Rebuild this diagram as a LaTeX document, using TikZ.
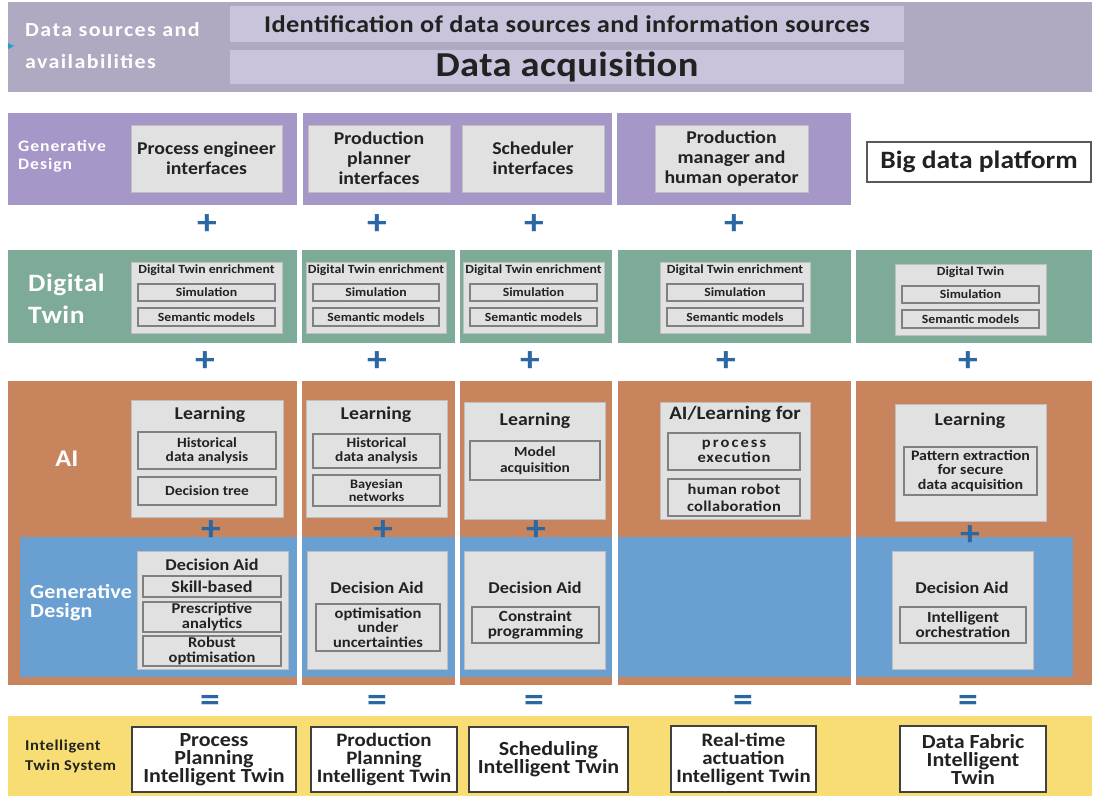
\documentclass[tikz,border=0pt]{standalone}
\usepackage{fontspec}
\setmainfont{Carlito}[FakeStretch=1.1]
\definecolor{topband}{HTML}{AFA9C1}
\definecolor{topin}{HTML}{C9C4DB}
\definecolor{purp}{HTML}{A597C8}
\definecolor{grn}{HTML}{7EAB97}
\definecolor{org}{HTML}{C8855D}
\definecolor{blu}{HTML}{6AA0D1}
\definecolor{yel}{HTML}{F7DD73}
\definecolor{boxg}{HTML}{E1E1E1}
\definecolor{signb}{HTML}{2B67A3}
\definecolor{txt}{HTML}{222222}
\newcommand{\fs}[2]{\fontsize{#1}{#2}\selectfont\bfseries}
\newcommand{\lsp}[1]{\addfontfeature{LetterSpace=#1}}
\newcommand{\bx}[7]{\node[#6, minimum width={(#4)-(#2)}, minimum height={(#5)-(#3)}] (#1) at ({((#2)+(#4))/2},{((#3)+(#5))/2}) {#7};}
\tikzset{
  base/.style={inner sep=0pt, outer sep=0pt, align=center, text=txt},
  topinbox/.style={base, fill=topin},
  gbox/.style={base, fill=boxg, draw=boxg!85!black, line width=0.4pt},
  sbox/.style={base, fill=boxg, draw=black!50, line width=1.1pt},
  twin/.style={base, fill=white, draw=black!75, line width=1.3pt},
  bigbox/.style={base, fill=white, draw=black!65, line width=2.5pt},
  lblw/.style={inner sep=0pt, text=white, align=left, anchor=west},
  sign/.style={inner sep=0pt, text=signb, font=\fs{36}{36}},
  ttl/.style={inner sep=0pt, text=txt, align=center}
}
\begin{document}
\begin{tikzpicture}[x=1pt,y=-1pt]
\useasboundingbox (0,0) rectangle (1094,796);
% ---------- top band
\fill[topband] (8,2) rectangle (1092,92);
\fill[signb!60!cyan] (8,43) -- (14,46) -- (8,49) -- cycle;
\bx{ident}{230}{6}{904}{42}{topinbox, font=\fs{24}{26}\lsp{1.5}}{Identification of data sources and information sources}
\bx{acq}{230}{50}{904}{84}{topinbox, font=\fs{35}{36}\lsp{1}}{Data acquisition}
\node[lblw, font=\fs{20}{32}\lsp{7}] (dsa) at (25,46) {Data sources and\\availabilities};
% ---------- generative design (top)
\fill[purp] (8,113) rectangle (297,205);
\fill[purp] (303,113) rectangle (612,205);
\fill[purp] (617,113) rectangle (851,205);
\node[lblw, font=\fs{16}{18}\lsp{6}] (gd1) at (18,156) {Generative\\Design};
\bx{pe}{131}{125}{282}{192}{gbox, font=\fs{18}{20}}{Process engineer\\interfaces}
\bx{pp}{308}{125}{450}{192}{gbox, font=\fs{18}{20}}{Production\\planner\\interfaces}
\bx{sc}{462}{125}{604}{192}{gbox, font=\fs{18}{20}}{Scheduler\\interfaces}
\bx{pm}{655}{125}{808}{192}{gbox, font=\fs{18}{20}}{Production\\manager and\\human operator}
\bx{bd}{867}{142}{1091}{182}{bigbox, font=\fs{25}{26}}{Big data platform}
% plus row 1
\node[sign] (p11) at (207,225) {+};
\node[sign] (p12) at (377,225) {+};
\node[sign] (p13) at (534,225) {+};
\node[sign] (p14) at (734,225) {+};
% ---------- digital twin
\fill[grn] (8,250) rectangle (297,343);
\fill[grn] (302,250) rectangle (455,343);
\fill[grn] (460,250) rectangle (612,343);
\fill[grn] (618,250) rectangle (851,343);
\fill[grn] (856,250) rectangle (1092,343);
\node[lblw, font=\fs{25}{32}\lsp{2}] (dtl) at (28,299) {Digital\\Twin};
\newcommand{\dtcol}[5]{%
  \bx{#1box}{#2}{#5}{#3}{#5+71}{gbox}{}
  \node[ttl, font=\fs{12.5}{13}] (#1t) at ({((#2)+(#3))/2},#5+8) {#4};
  \bx{#1sim}{#2+7}{#5+22}{#3-7}{#5+39}{sbox, font=\fs{12.5}{13}}{Simulation}
  \bx{#1sem}{#2+7}{#5+46}{#3-7}{#5+64}{sbox, font=\fs{12.5}{13}}{Semantic models}}
\dtcol{dta}{131}{282}{Digital Twin enrichment}{262}
\dtcol{dtb}{306}{446}{Digital Twin enrichment}{262}
\dtcol{dtc}{463}{604}{Digital Twin enrichment}{262}
\dtcol{dtd}{660}{810}{Digital Twin enrichment}{262}
\dtcol{dte}{895}{1046}{Digital Twin}{264}
% plus row 2
\node[sign] (p21) at (205,362) {+};
\node[sign] (p22) at (377,362) {+};
\node[sign] (p23) at (530,362) {+};
\node[sign] (p24) at (726,362) {+};
\node[sign] (p25) at (968,362) {+};
% ---------- AI / generative design
\fill[org] (8,381) rectangle (297,685);
\fill[org] (302,381) rectangle (455,685);
\fill[org] (460,381) rectangle (612,685);
\fill[org] (618,381) rectangle (851,685);
\fill[org] (856,381) rectangle (1092,685);
\fill[blu] (20,537) rectangle (297,677);
\fill[blu] (302,537) rectangle (455,677);
\fill[blu] (460,537) rectangle (612,677);
\fill[blu] (618,537) rectangle (851,677);
\fill[blu] (856,537) rectangle (1073,677);
\node[inner sep=0pt, text=white, font=\fs{24}{26}] (ail) at (67,459) {AI};
% AI column A
\bx{la}{131}{400}{283}{517}{gbox}{}
\node[ttl, font=\fs{18}{20}] (lat) at (210,415) {Learning};
\bx{la1}{138}{432}{276}{469}{sbox, font=\fs{14}{14}}{Historical\\data analysis}
\bx{la2}{138}{477}{276}{505}{sbox, font=\fs{14}{14}}{Decision tree}
% AI column B
\bx{lb}{306}{400}{447}{517}{gbox}{}
\node[ttl, font=\fs{18}{20}] (lbt) at (376,415) {Learning};
\bx{lb1}{313}{434}{440}{468}{sbox, font=\fs{14}{14}}{Historical\\data analysis}
\bx{lb2}{313}{475}{440}{506}{sbox, font=\fs{13}{13}}{Bayesian\\networks}
% AI column C
\bx{lc}{464}{402}{605}{519}{gbox}{}
\node[ttl, font=\fs{18}{20}] (lct) at (535,421) {Learning};
\bx{lc1}{470}{441}{600}{480}{sbox, font=\fs{14}{16}}{Model\\acquisition}
% AI column D
\bx{ld}{660}{402}{810}{519}{gbox}{}
\node[ttl, font=\fs{19}{20}] (ldt) at (735,414) {AI/Learning for};
\bx{ld1}{668}{433}{800}{470}{sbox, font=\fs{15}{15}}{{\lsp{14}process}\\{\lsp{6}execution}}
\bx{ld2}{668}{479}{800}{516}{sbox, font=\fs{15}{17}\lsp{2}}{human robot\\collaboration}
% AI column E
\bx{le}{895}{404}{1046}{521}{gbox}{}
\node[ttl, font=\fs{18}{20}] (let) at (970,421) {Learning};
\bx{le1}{904}{447}{1037}{495}{sbox, font=\fs{14.5}{14.5}}{Pattern extraction\\for secure\\data acquisition}
% plus row 3
\node[sign] (p31) at (211,531) {+};
\node[sign] (p32) at (383,531) {+};
\node[sign] (p33) at (536,531) {+};
\node[sign] (p35) at (970,536) {+};
% generative design (bottom)
\node[lblw, font=\fs{20}{19}\lsp{1}] (gd2) at (30,603) {Generative\\Design};
\bx{da}{137}{551}{288}{669}{gbox}{}
\node[ttl, font=\fs{16.5}{18}] (dat) at (212,565) {Decision Aid};
\bx{da1}{143}{576}{281}{597}{sbox, font=\fs{16.5}{13}}{Skill-based}
\bx{da2}{143}{602}{281}{632}{sbox, font=\fs{15}{14.5}}{Prescriptive\\analytics}
\bx{da3}{143}{636}{281}{666}{sbox, font=\fs{15}{14.5}}{Robust\\optimisation}
\bx{db}{307}{551}{447}{669}{gbox}{}
\node[ttl, font=\fs{16.5}{18}] (dbt) at (377,588) {Decision Aid};
\bx{db1}{316}{604}{440}{651}{sbox, font=\fs{15}{14.5}}{optimisation\\under\\uncertainties}
\bx{dc}{464}{551}{605}{669}{gbox}{}
\node[ttl, font=\fs{16.5}{18}] (dct) at (535,588) {Decision Aid};
\bx{dc1}{472}{607}{599}{643}{sbox, font=\fs{15.5}{15}}{Constraint\\programming}
\bx{de}{892}{551}{1033}{669}{gbox}{}
\node[ttl, font=\fs{16.5}{18}] (det) at (962,588) {Decision Aid};
\bx{de1}{900}{607}{1026}{643}{sbox, font=\fs{15.5}{15}}{Intelligent\\orchestration}
% equal row
\node[sign] (e1) at (210,703) {=};
\node[sign] (e2) at (377,703) {=};
\node[sign] (e3) at (534,703) {=};
\node[sign] (e4) at (743,703) {=};
\node[sign] (e5) at (968,703) {=};
% ---------- intelligent twin system
\fill[yel] (8,716) rectangle (1092,796);
\node[lblw, text=txt, font=\fs{15}{20}\lsp{4}] (its) at (25,756) {Intelligent\\Twin System};
\bx{ta}{132}{727}{296}{792}{twin, font=\fs{20}{18}}{Process\\Planning\\Intelligent Twin}
\bx{tb}{311}{727}{457}{792}{twin, font=\fs{19}{18}}{Production\\Planning\\Intelligent Twin}
\bx{tc}{469}{727}{628}{792}{twin, font=\fs{20}{18}}{Scheduling\\Intelligent Twin}
\bx{td}{671}{726}{816}{792}{twin, font=\fs{19}{18}}{Real-time\\actuation\\Intelligent Twin}
\bx{te}{900}{726}{1046}{792}{twin, font=\fs{20}{18}}{Data Fabric\\Intelligent\\Twin}
\end{tikzpicture}
\end{document}
